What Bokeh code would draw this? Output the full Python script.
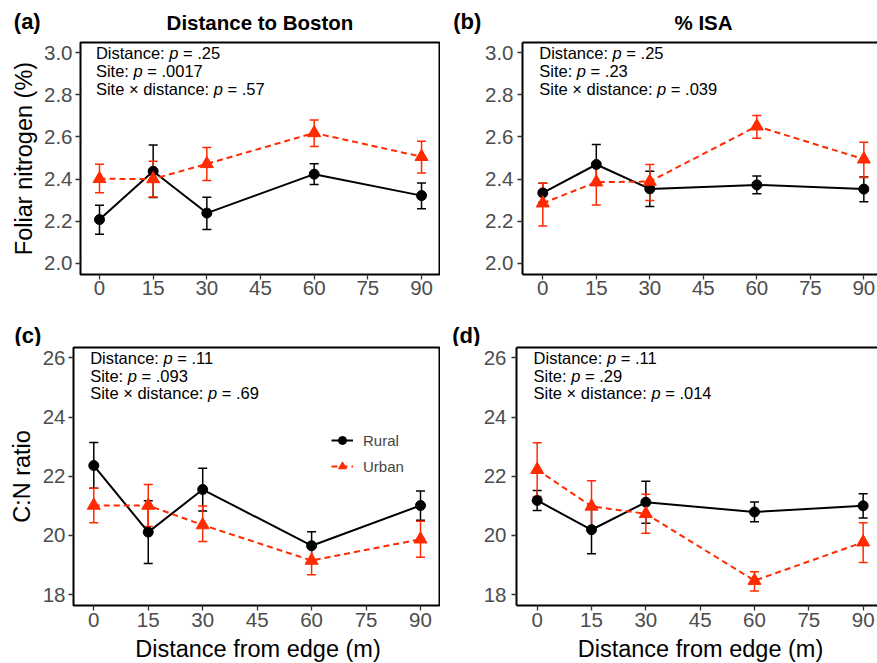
from bokeh.plotting import figure
from bokeh.models import (ColumnDataSource, Whisker, TeeHead, FixedTicker,
                          PrintfTickFormatter, Legend, LegendItem,
                          LinearAxis, Range1d)
from bokeh.layouts import row, column
from bokeh.core.properties import value
from bokeh.embed import file_html
from bokeh.resources import INLINE

# ---------------- data ----------------
distance = [0, 15, 30, 60, 90]
x_ticks = [0, 15, 30, 45, 60, 75, 90]
n_ticks = [2.0, 2.2, 2.4, 2.6, 2.8, 3.0]
cn_ticks = [18, 20, 22, 24, 26]

# (a) Foliar N, distance to Boston
a_rural = [2.207, 2.437, 2.238, 2.423, 2.321]
a_rural_lo = [2.137, 2.312, 2.160, 2.374, 2.259]
a_rural_hi = [2.275, 2.562, 2.313, 2.472, 2.381]
a_urban = [2.401, 2.400, 2.472, 2.619, 2.506]
a_urban_lo = [2.335, 2.314, 2.393, 2.555, 2.428]
a_urban_hi = [2.470, 2.485, 2.550, 2.681, 2.580]

# (b) Foliar N, % ISA
b_rural = [2.334, 2.469, 2.353, 2.372, 2.352]
b_rural_lo = [2.290, 2.374, 2.269, 2.330, 2.292]
b_rural_hi = [2.380, 2.564, 2.437, 2.414, 2.409]
b_urban = [2.285, 2.385, 2.388, 2.651, 2.494]
b_urban_lo = [2.177, 2.277, 2.298, 2.594, 2.407]
b_urban_hi = [2.380, 2.475, 2.469, 2.702, 2.575]

# (c) C:N, distance to Boston
c_rural = [22.36, 20.11, 21.55, 19.65, 21.01]
c_rural_lo = [21.59, 19.05, 20.82, 19.15, 20.51]
c_rural_hi = [23.14, 21.17, 22.27, 20.12, 21.50]
c_urban = [21.01, 21.01, 20.35, 19.15, 19.87]
c_urban_lo = [20.43, 20.30, 19.79, 18.67, 19.26]
c_urban_hi = [21.59, 21.72, 20.99, 19.63, 20.48]

# (d) C:N, % ISA
d_rural = [21.18, 20.19, 21.12, 20.79, 21.00]
d_rural_lo = [20.84, 19.38, 20.41, 20.46, 20.59]
d_rural_hi = [21.52, 21.00, 21.83, 21.13, 21.41]
d_urban = [22.22, 20.98, 20.73, 18.47, 19.77]
d_urban_lo = [21.31, 20.11, 20.07, 18.12, 19.08]
d_urban_hi = [23.13, 21.85, 21.39, 18.77, 20.43]

stat_terms = ["Distance:", "Site:", "Site \u00d7 distance:"]
a_pvals = [".25", ".0017", ".57"]
b_pvals = [".25", ".23", ".039"]
c_pvals = [".11", ".093", ".69"]
d_pvals = [".11", ".29", ".014"]

series_names = ["Rural", "Urban"]
panel_tags = ["(a)", "(b)", "(c)", "(d)"]
col_titles = ["Distance to Boston", "% ISA"]
y_titles = ["Foliar nitrogen (%)", "C:N ratio"]
x_title = "Distance from edge (m)"

# ---------------- style ----------------
FONT = "Liberation Sans"
BLACK = "#000000"
RED = "#FF2A00"
TICK_FS = "20.5px"
AXT_FS = "23.5px"
ANN_FS = 16.5
GREY = "#4D4D4D"

ARIAL_W = {' ': 278, '.': 278, ':': 278, '=': 584, '\u00d7': 584, 'D': 722,
           'S': 667, 'a': 556, 'c': 500, 'd': 556, 'e': 556, 'i': 222,
           'n': 556, 'p': 556, 's': 500, 't': 278}


def text_w(s, fs):
    return sum(ARIAL_W.get(ch, 556) for ch in s) * fs / 1000.0


def header(width, height, items, bold=True):
    h = figure(width=width, height=height, x_range=Range1d(0, width),
               y_range=Range1d(height, 0), output_backend="svg",
               toolbar_location=None, min_border=0,
               x_axis_location=None, y_axis_location=None)
    h.outline_line_color = None
    h.grid.visible = False
    for txt, x, y, fs, align in items:
        h.text(x=[x], y=[y], text=[txt], text_font=value(FONT),
               text_font_size=value(fs),
               text_font_style="bold" if bold else "normal",
               text_align=align, text_baseline="middle", text_color=BLACK)
    return h


def make_panel(width, height, xr, yr, borders, yticks, yfmt, ytitle,
               rural, rural_lo, rural_hi, urban, urban_lo, urban_hi,
               pvals, ann_y, closed_box, ylab_standoff, ytick_standoff,
               xtick_standoff, legend_loc=None):
    bl, br, bt, bb = borders
    p = figure(width=width, height=height, x_range=Range1d(*xr),
               y_range=Range1d(*yr), output_backend="svg",
               toolbar_location=None, min_border_left=bl,
               min_border_right=br, min_border_top=bt, min_border_bottom=bb)
    p.grid.visible = False
    p.background_fill_color = "white"
    p.border_fill_color = "white"
    xax = p.below[0]
    yax = p.left[0]
    if closed_box:
        p.outline_line_color = BLACK
        p.outline_line_width = 2
        axis_line = None
    else:
        p.outline_line_color = None
        axis_line = BLACK
        top = LinearAxis(ticker=FixedTicker(ticks=[]), axis_line_color=BLACK,
                         axis_line_width=2, major_tick_out=0, major_tick_in=0,
                         minor_tick_out=0, minor_tick_in=0,
                         major_label_standoff=0,
                         major_label_text_font_size="0px")
        p.add_layout(top, "above")

    for ax in (xax, yax):
        ax.axis_line_color = axis_line
        ax.axis_line_width = 2
        ax.major_tick_line_color = "#333333"
        ax.major_tick_line_width = 1.3
        ax.major_tick_out = 5
        ax.major_tick_in = 0
        ax.minor_tick_line_color = None
        ax.major_label_text_font = FONT
        ax.major_label_text_font_size = TICK_FS
        ax.major_label_text_color = GREY
        ax.axis_label_text_font = FONT
        ax.axis_label_text_font_size = AXT_FS
        ax.axis_label_text_font_style = "normal"
        ax.axis_label_text_color = BLACK

    xax.ticker = FixedTicker(ticks=x_ticks)
    xax.major_label_standoff = xtick_standoff
    yax.ticker = FixedTicker(ticks=yticks)
    yax.formatter = PrintfTickFormatter(format=yfmt)
    yax.major_label_standoff = ytick_standoff
    yax.axis_label_standoff = ylab_standoff
    if ytitle:
        yax.axis_label = ytitle

    renderers = []
    for vals, lo, hi, color, marker, size, dash in (
            (rural, rural_lo, rural_hi, BLACK, "circle", 10, "solid"),
            (urban, urban_lo, urban_hi, RED, "triangle", 13, "6 4")):
        src = ColumnDataSource(dict(x=distance, y=vals, lo=lo, hi=hi))
        w = Whisker(base="x", upper="hi", lower="lo", source=src,
                    dimension="height", line_color=color, line_width=1.5,
                    upper_head=TeeHead(size=9, line_color=color, line_width=1.5),
                    lower_head=TeeHead(size=9, line_color=color, line_width=1.5))
        p.add_layout(w)
        ln = p.line("x", "y", source=src, line_color=color, line_width=2,
                    line_dash=dash)
        sc = p.scatter("x", "y", source=src, marker=marker, size=size,
                       fill_color=color, line_color=color)
        renderers.append((ln, sc))

    # statistics annotation with italic p
    fs = ANN_FS
    sp = text_w(" ", fs)
    nx, ny, nt, no = [], [], [], []
    ix, iy, io = [], [], []
    for term, pv, yy in zip(stat_terms, pvals, ann_y):
        w0 = text_w(term, fs) + sp
        wp = text_w("p", fs)
        nx += [-1, -1]
        ny += [yy, yy]
        nt += [term, "= " + pv]
        no += [0, w0 + wp + sp]
        ix.append(-1)
        iy.append(yy)
        io.append(w0)
    p.text(x="x", y="y", text="t", x_offset="o",
           source=ColumnDataSource(dict(x=nx, y=ny, t=nt, o=no)),
           text_font=value(FONT), text_font_size=value("%.1fpx" % fs),
           text_align="left", text_baseline="middle", text_color=BLACK)
    p.text(x="x", y="y", text="t", x_offset="o",
           source=ColumnDataSource(dict(x=ix, y=iy, t=["p"] * len(ix), o=io)),
           text_font=value(FONT), text_font_size=value("%.1fpx" % fs),
           text_font_style="italic",
           text_align="left", text_baseline="middle", text_color=BLACK)

    if legend_loc is not None:
        items = [LegendItem(label=name, renderers=list(r))
                 for name, r in zip(series_names, renderers)]
        leg = Legend(items=items, location=legend_loc, border_line_color=None,
                     background_fill_alpha=0, glyph_width=22, glyph_height=20,
                     spacing=6, label_standoff=10, padding=10, margin=0,
                     label_text_font=FONT, label_text_font_size="15px",
                     label_height=20)
        p.add_layout(leg)
    return p


n_range = (1.946, 3.049)
cn_range = (17.63, 26.35)
n_ann = [3.0, 2.913, 2.826]
cn_ann = [26.0, 25.4, 24.8]

h1 = header(877, 40, [(panel_tags[0], 13.3, 20.6, "22px", "left"),
                      (col_titles[0], 259.5, 22.4, "20.5px", "center"),
                      (panel_tags[1], 452.7, 20.6, "22px", "left"),
                      (col_titles[1], 703, 22.4, "20.5px", "center")])
h2 = header(877, 28, [(panel_tags[2], 14, 16.5, "22px", "left"),
                      (panel_tags[3], 451.7, 16.5, "22px", "left")])
foot = header(877, 28, [(x_title, 257.5, 13, AXT_FS, "center"),
                        (x_title, 700, 13, AXT_FS, "center")], bold=False)

pa = make_panel(440, 278, (-5.31, 95.02), n_range, (80, 1, 2, 44),
                n_ticks, "%.1f", y_titles[0],
                a_rural, a_rural_lo, a_rural_hi, a_urban, a_urban_lo, a_urban_hi,
                a_pvals, n_ann, True, 4, 3, 1)
pb = make_panel(437, 278, (-5.69, 93.83), n_range, (82, 0, 2, 44),
                n_ticks, "%.1f", None,
                b_rural, b_rural_lo, b_rural_hi, b_urban, b_urban_lo, b_urban_hi,
                b_pvals, n_ann, False, 4, 4, 1)
pc = make_panel(440, 289, (-5.59, 95.23), cn_range, (73, 1, 1, 30),
                cn_ticks, "%d", y_titles[1],
                c_rural, c_rural_lo, c_rural_hi, c_urban, c_urban_lo, c_urban_hi,
                c_pvals, cn_ann, True, 5, 3, 2, legend_loc=(258, 129))
pd_ = make_panel(437, 289, (-5.71, 93.96), cn_range, (76, 0, 1, 30),
                 cn_ticks, "%d", None,
                 d_rural, d_rural_lo, d_rural_hi, d_urban, d_urban_lo, d_urban_hi,
                 d_pvals, cn_ann, False, 5, 5, 2)

layout = column(h1, row(pa, pb), h2, row(pc, pd_), foot)
open("out.html", "w").write(file_html(layout, INLINE))
